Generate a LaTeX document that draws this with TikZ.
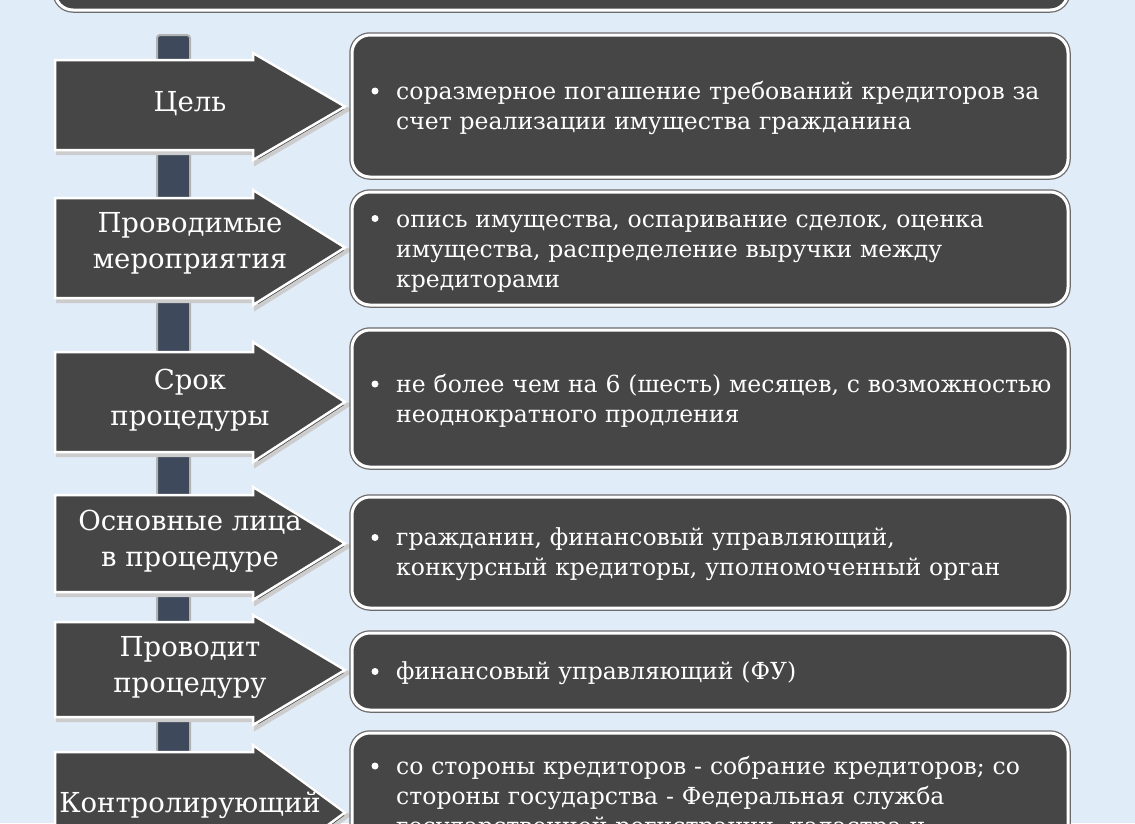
\documentclass[tikz,border=0pt]{standalone}
\usepackage{fontspec}
\setmainfont{DejaVu Serif}
\definecolor{bgblue}{HTML}{E1ECF9}
\definecolor{boxgray}{HTML}{474647}
\definecolor{barblue}{HTML}{3E4A5C}
\tikzset{
  pointer/.style={fill=boxgray,draw=white,line width=2.5pt,line join=miter},
  infobox/.style={fill=boxgray,draw=white,line width=3pt,rounded corners=18pt},
  infoedge/.style={draw=boxgray!80,line width=5.5pt,rounded corners=18pt},
  labeltext/.style={text=white,align=center,inner sep=0pt,font=\fontsize{27.5}{36}\selectfont},
  bodytext/.style={text=white,align=left,anchor=west,text width=690pt,inner sep=0pt,font=\fontsize{23.5}{30}\selectfont}
}
\begin{document}
\begin{tikzpicture}[x=1pt,y=-1pt]
\fill[bgblue] (0,0) rectangle (1135,823);
\useasboundingbox (0,0) rectangle (1135,823);

% top box, cut off
\draw[infoedge] (55,-40) rectangle (1068,10);
\draw[infobox] (55,-40) rectangle (1068,10);

% vertical bar
\draw[fill=barblue,draw=gray!60,line width=2pt,rounded corners=3pt] (157,35) rectangle (190,860);

% rows: body top / body bottom / head top / head bottom / box top / box bottom / lines / label y
\foreach \n/\bt/\bb/\ht/\hb/\yt/\yb/\nl/\ly/\lab/\txt in {
  1/60/150/53/160/35/177/2/114/{Цель}/{соразмерное погашение требований кредиторов за\\счет реализации имущества гражданина},
  2/198/298/190/305/192/305/3/271/{Проводимые\\мероприятия}/{опись имущества, оспаривание сделок, оценка\\имущества, распределение выручки между\\кредиторами},
  3/352/452/342/462/330/467/2/429/{Срок\\процедуры}/{не более чем на 6 (шесть) месяцев, с возможностью\\неоднократного продления},
  4/495/592/487/600/497/608/2/570/{Основные лица\\в процедуре}/{гражданин, финансовый управляющий,\\конкурсный кредиторы, уполномоченный орган},
  5/622/717/615/725/633/710/1/696/{Проводит\\процедуру}/{финансовый управляющий (ФУ)},
  6/752/870/745/880/733/900/3/816/{Контролирующий}/{со стороны кредиторов - собрание кредиторов; со\\стороны государства - Федеральная служба\\государственной регистрации, кадастра и}}
{
  \pgfmathsetmacro{\tip}{(\ht+\hb)/2}
  \pgfmathsetmacro{\mid}{\n==6 ? 796 : (\n==3 ? 399 : (\n==1 ? 106 : (\yt+\yb)/2))}
  \draw[pointer,draw=gray!40,line width=4pt] (58,\bt+3) -- (256,\bt+3) -- (256,\ht+3) -- (348,\tip+3) -- (256,\hb+3) -- (256,\bb+3) -- (58,\bb+3) -- cycle;
  \draw[pointer] (55,\bt) -- (253,\bt) -- (253,\ht) -- (345,\tip) -- (253,\hb) -- (253,\bb) -- (55,\bb) -- cycle;
  \node[labeltext] (lab\n) at (190,\ly) {\lab};
  \draw[infoedge] (352,\yt) rectangle (1068,\yb);
  \draw[infobox] (352,\yt) rectangle (1068,\yb);
  \node[bodytext] (txt\n) at (396,\mid+11) {\txt};
  \fill[white] (375,{\mid-(\nl-1)*15}) circle (3.5pt);
}
\end{tikzpicture}
\end{document}
